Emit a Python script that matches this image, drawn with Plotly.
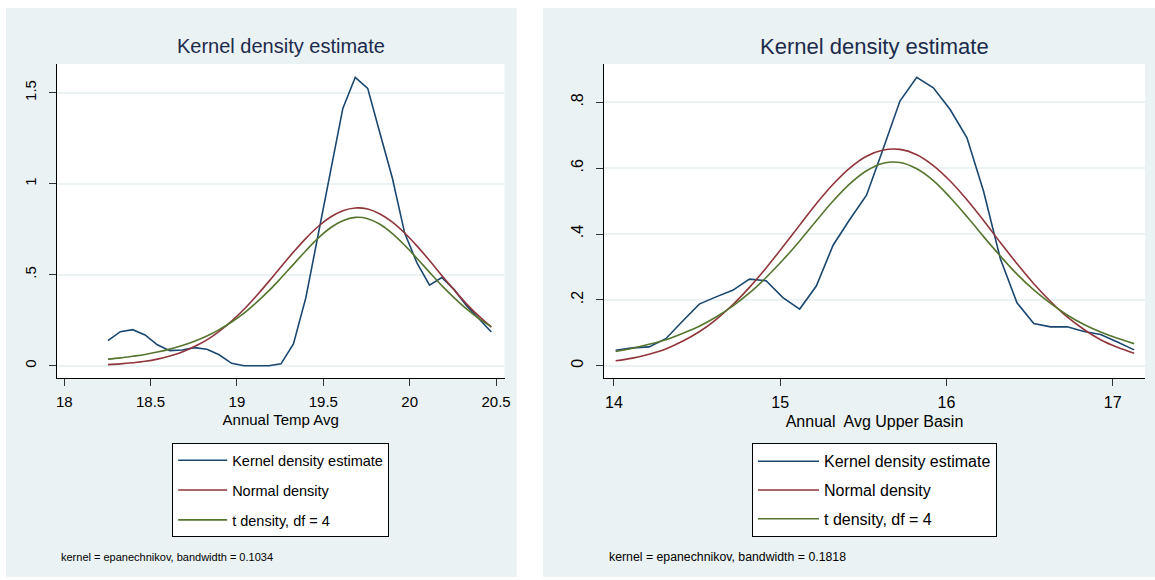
import plotly.graph_objects as go

W, H = 1155, 580

# ---------------- data ----------------
temp_x = [18.253, 18.325, 18.396, 18.468, 18.539, 18.611, 18.683, 18.754,
          18.826, 18.897, 18.969, 19.041, 19.112, 19.184, 19.255, 19.327,
          19.399, 19.470, 19.542, 19.613, 19.685, 19.757, 19.828, 19.900,
          19.971, 20.043, 20.115, 20.186, 20.258, 20.329, 20.401, 20.473]
temp_kde = [0.138, 0.187, 0.198, 0.169, 0.115, 0.083, 0.086, 0.099,
            0.090, 0.060, 0.013, 0.000, 0.000, 0.000, 0.010, 0.120,
            0.374, 0.720, 1.085, 1.414, 1.585, 1.524, 1.277, 1.030,
            0.729, 0.563, 0.443, 0.485, 0.418, 0.330, 0.258, 0.185]
temp_normal = [0.006, 0.010, 0.016, 0.024, 0.036, 0.053, 0.075, 0.105,
               0.142, 0.189, 0.245, 0.310, 0.383, 0.462, 0.544, 0.624,
               0.700, 0.765, 0.817, 0.852, 0.867, 0.861, 0.834, 0.789,
               0.729, 0.657, 0.578, 0.496, 0.416, 0.340, 0.272, 0.212]
temp_t = [0.036, 0.043, 0.052, 0.062, 0.075, 0.091, 0.111, 0.134,
          0.163, 0.198, 0.240, 0.289, 0.347, 0.411, 0.482, 0.557,
          0.632, 0.701, 0.758, 0.797, 0.815, 0.808, 0.777, 0.726,
          0.662, 0.589, 0.513, 0.440, 0.373, 0.312, 0.259, 0.215]

basin_x = [14.010, 14.111, 14.211, 14.312, 14.412, 14.513, 14.614, 14.714,
           14.815, 14.915, 15.016, 15.117, 15.217, 15.318, 15.418, 15.519,
           15.620, 15.720, 15.821, 15.921, 16.022, 16.123, 16.223, 16.324,
           16.424, 16.525, 16.626, 16.726, 16.827, 16.927, 17.028, 17.129]
basin_kde = [0.047, 0.054, 0.057, 0.082, 0.135, 0.187, 0.209, 0.229,
             0.263, 0.258, 0.207, 0.172, 0.242, 0.366, 0.444, 0.518,
             0.660, 0.804, 0.876, 0.844, 0.778, 0.692, 0.530, 0.325,
             0.191, 0.128, 0.118, 0.118, 0.104, 0.095, 0.072, 0.048]
basin_normal = [0.015, 0.023, 0.035, 0.051, 0.074, 0.103, 0.140, 0.185,
                0.238, 0.297, 0.361, 0.427, 0.492, 0.551, 0.600, 0.636,
                0.655, 0.657, 0.641, 0.608, 0.561, 0.504, 0.441, 0.374,
                0.310, 0.249, 0.195, 0.148, 0.110, 0.079, 0.056, 0.038]
basin_t = [0.043, 0.053, 0.065, 0.079, 0.098, 0.120, 0.148, 0.181,
           0.221, 0.268, 0.321, 0.379, 0.440, 0.500, 0.552, 0.592,
           0.615, 0.617, 0.598, 0.562, 0.511, 0.453, 0.392, 0.333,
           0.278, 0.230, 0.189, 0.154, 0.125, 0.102, 0.083, 0.067]

series_names = ["Kernel density estimate", "Normal density", "t density, df = 4"]
temp_xticks = [18, 18.5, 19, 19.5, 20, 20.5]
temp_xtext = ["18", "18.5", "19", "19.5", "20", "20.5"]
temp_yticks = [0, 0.5, 1, 1.5]
temp_ytext = ["0", ".5", "1", "1.5"]
basin_xticks = [14, 15, 16, 17]
basin_xtext = ["14", "15", "16", "17"]
basin_yticks = [0, 0.2, 0.4, 0.6, 0.8]
basin_ytext = ["0", ".2", ".4", ".6", ".8"]
titles = ["Kernel density estimate", "Kernel density estimate"]
xtitles = ["Annual Temp Avg", "Annual\u00a0 Avg Upper Basin"]
notes = ["kernel = epanechnikov, bandwidth = 0.1034",
         "kernel = epanechnikov, bandwidth = 0.1818"]

# ---------------- style ----------------
NAVY, MAROON, GREEN = "#1A476F", "#90353B", "#55752F"
PANEL_BG = "#EAF2F3"
TITLE_C = "#1C2B4B"
FONT = "Liberation Sans, Arial, sans-serif"

def px(x):
    return x / W

def py(y):
    return 1 - y / H

# plot areas in pixels
L_X0, L_X1 = 56.8, 504.5
R_X0, R_X1 = 604.0, 1145.0
P_Y0, P_Y1 = 64.0, 378.0

# per-panel text sizes (left panel text is horizontally condensed in the reference)
LS = dict(title=20, tick=15, legend=14.5, axtitle=15, note=11, gap=8)
RS = dict(title=22, tick=16, legend=16, axtitle=16, note=12.3, gap=5)

fig = go.Figure()
colors = [NAVY, MAROON, GREEN]

for k, (ys, name) in enumerate(zip([temp_kde, temp_normal, temp_t], series_names)):
    fig.add_trace(go.Scatter(
        x=temp_x, y=ys, mode="lines", name=name,
        line=dict(color=colors[k], width=1.6, shape="linear" if k == 0 else "spline"),
        xaxis="x", yaxis="y", legend="legend", legendgroup="L%d" % k))

for k, (ys, name) in enumerate(zip([basin_kde, basin_normal, basin_t], series_names)):
    fig.add_trace(go.Scatter(
        x=basin_x, y=ys, mode="lines", name=name,
        line=dict(color=colors[k], width=1.6, shape="linear" if k == 0 else "spline"),
        xaxis="x2", yaxis="y2", legend="legend2", legendgroup="R%d" % k))

shapes = [
    dict(type="rect", xref="paper", yref="paper", x0=px(6), x1=px(516.7),
         y0=py(577), y1=py(8), fillcolor=PANEL_BG, line=dict(width=0), layer="below"),
    dict(type="rect", xref="paper", yref="paper", x0=px(543), x1=px(1155),
         y0=py(577), y1=py(8), fillcolor=PANEL_BG, line=dict(width=0), layer="below"),
    dict(type="rect", xref="paper", yref="paper", x0=px(L_X0), x1=px(L_X1),
         y0=py(P_Y1), y1=py(P_Y0), fillcolor="white", line=dict(width=0), layer="below"),
    dict(type="rect", xref="paper", yref="paper", x0=px(R_X0), x1=px(R_X1),
         y0=py(P_Y1), y1=py(P_Y0), fillcolor="white", line=dict(width=0), layer="below"),
]

def xaxis(dom, rng, tv, tt, title, s):
    return dict(domain=dom, range=rng, tickmode="array", tickvals=tv, ticktext=tt,
                showgrid=False, zeroline=False, showline=True, linecolor="black",
                linewidth=1, ticks="outside", ticklen=7, tickcolor="#333",
                ticklabelstandoff=3,
                tickfont=dict(family=FONT, size=s["tick"], color="black"),
                title=dict(text=title, font=dict(family=FONT, size=s["axtitle"], color="black"),
                           standoff=5),
                automargin=False, fixedrange=True)

def yaxis(anchor, rng, tv, tt, s):
    return dict(domain=[py(P_Y1), py(P_Y0)], range=rng, anchor=anchor,
                tickmode="array", tickvals=tv, ticktext=tt, tickangle=-90,
                showgrid=True, gridcolor=PANEL_BG, gridwidth=2, zeroline=False,
                showline=True, linecolor="black", linewidth=1, ticks="outside",
                ticklen=7, tickcolor="#333", ticklabelstandoff=7,
                tickfont=dict(family=FONT, size=s["tick"], color="black"),
                automargin=False, fixedrange=True)

legend_common = dict(bgcolor="white", bordercolor="black", borderwidth=1,
                     xanchor="center", yanchor="top", traceorder="grouped")

fig.update_layout(
    width=W, height=H, autosize=False,
    margin=dict(l=0, r=0, t=0, b=0),
    paper_bgcolor="white", plot_bgcolor="rgba(0,0,0,0)",
    shapes=shapes,
    xaxis=xaxis([px(L_X0), px(L_X1)], [17.957, 20.549], temp_xticks, temp_xtext,
                xtitles[0], LS),
    yaxis=yaxis("x", [-0.0676, 1.658], temp_yticks, temp_ytext, LS),
    xaxis2=xaxis([px(R_X0), px(R_X1)], [13.94, 17.194], basin_xticks, basin_xtext,
                 xtitles[1], RS),
    yaxis2=yaxis("x2", [-0.0374, 0.9164], basin_yticks, basin_ytext, RS),
    legend=dict(x=px((L_X0 + L_X1) / 2), y=py(443.3), itemwidth=49,
                tracegroupgap=LS["gap"],
                font=dict(family=FONT, size=LS["legend"], color="black"), **legend_common),
    legend2=dict(x=px((R_X0 + R_X1) / 2), y=py(443.3), itemwidth=61,
                 tracegroupgap=RS["gap"],
                 font=dict(family=FONT, size=RS["legend"], color="black"), **legend_common),
    showlegend=True,
    annotations=[
        dict(text=titles[0], xref="paper", yref="paper", x=px((L_X0 + L_X1) / 2),
             y=py(46), xanchor="center", yanchor="middle", showarrow=False,
             font=dict(family=FONT, size=LS["title"], color=TITLE_C)),
        dict(text=titles[1], xref="paper", yref="paper", x=px((R_X0 + R_X1) / 2),
             y=py(46), xanchor="center", yanchor="middle", showarrow=False,
             font=dict(family=FONT, size=RS["title"], color=TITLE_C)),
        dict(text=notes[0], xref="paper", yref="paper", x=px(58.5), y=py(556.7),
             xanchor="left", yanchor="middle", showarrow=False,
             font=dict(family=FONT, size=LS["note"], color="black")),
        dict(text=notes[1], xref="paper", yref="paper", x=px(606.7), y=py(556.7),
             xanchor="left", yanchor="middle", showarrow=False,
             font=dict(family=FONT, size=RS["note"], color="black")),
    ],
)

fig.write_html("out.html")
